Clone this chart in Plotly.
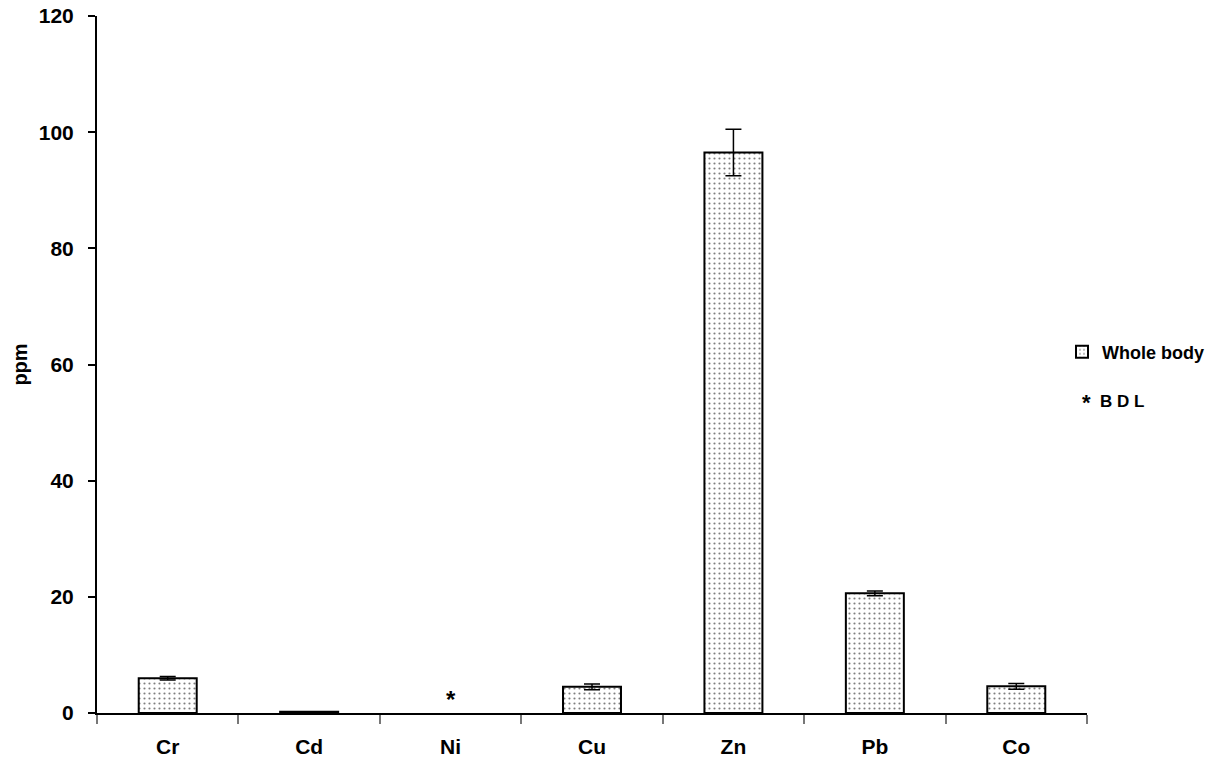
import plotly.graph_objects as go

categories = ["Cr", "Cd", "Ni", "Cu", "Zn", "Pb", "Co"]
values = [6.0, 0.2, None, 4.5, 96.5, 20.6, 4.6]
errors = [0.3, 0.0, 0.0, 0.5, 4.0, 0.4, 0.5]
bdl_categories = ["Ni"]
y_ticks = [0, 20, 40, 60, 80, 100, 120]

FONT = "Liberation Sans, Arial, sans-serif"
W, H = 1220, 762
PX0, PX1, PY0, PY1 = 97, 1087, 16, 713   # target plot-area pixels
L = PX0
T = PY0
PW = PX1 - PX0
PH = PY1 - PY0
R = W - L - PW
B = H - T - PH


def xp(px):
    return (px - PX0) / PW


def yp(py):
    return (PY1 - py) / PH


fig = go.Figure()
fig.add_trace(go.Bar(
    x=categories, y=values, name="<b>Whole body</b>",
    width=0.41,
    marker=dict(color="white", line=dict(color="black", width=2),
                pattern=dict(shape=".", fgcolor="black", bgcolor="white", size=5, solidity=0.15)),
    error_y=dict(type="data", array=errors, visible=True, color="black", thickness=1.5, width=8),
))

for c in bdl_categories:
    fig.add_annotation(x=c, y=0, text="<b>*</b>", showarrow=False, yshift=14,
                       font=dict(family=FONT, size=24, color="black"))

fig.add_annotation(xref="paper", yref="paper", x=xp(1080), xanchor="left",
                   y=yp(403), yanchor="middle",
                   text="<b>*</b>", showarrow=False,
                   font=dict(family=FONT, size=22, color="black"))
fig.add_annotation(xref="paper", yref="paper", x=xp(1098), xanchor="left",
                   y=yp(401), yanchor="middle",
                   text="<b>B D L</b>", showarrow=False,
                   font=dict(family=FONT, size=17, color="black"))

fig.update_layout(
    width=W, height=H,
    paper_bgcolor="white", plot_bgcolor="white",
    margin=dict(l=L, r=R, t=T, b=B, autoexpand=False),
    font=dict(family=FONT, color="black"),
    showlegend=True,
    legend=dict(x=xp(1062), xanchor="left", y=yp(352), yanchor="middle",
                font=dict(family=FONT, size=18, color="black"),
                itemwidth=30, bgcolor="rgba(0,0,0,0)"),
)

fig.update_xaxes(
    type="category", showline=True, linecolor="black", linewidth=2,
    ticks="outside", tickson="boundaries", ticklen=9, tickcolor="#777777", tickwidth=2,
    tickfont=dict(family=FONT, size=21, color="black"),
    tickvals=categories, ticktext=[f"<b>{c}</b>" for c in categories],
    ticklabelstandoff=14, automargin=False, ticklabeloverflow="allow",
    showgrid=False, zeroline=False,
)
fig.update_yaxes(
    range=[0, 120], tickvals=y_ticks, ticktext=[f"<b>{t}</b>" for t in y_ticks],
    showline=True, linecolor="black", linewidth=2,
    ticks="outside", ticklen=7, tickcolor="black", tickwidth=1.5,
    tickfont=dict(family=FONT, size=21, color="black"),
    ticklabelstandoff=10, automargin=False, ticklabeloverflow="allow",
    showgrid=False, zeroline=False,
    title=dict(text="<b>ppm</b>", font=dict(family=FONT, size=20, color="black"), standoff=6),
)

fig.write_html("out.html", config={"displayModeBar": False},
               post_script="document.body.style.margin='0';document.body.style.padding='0';")
